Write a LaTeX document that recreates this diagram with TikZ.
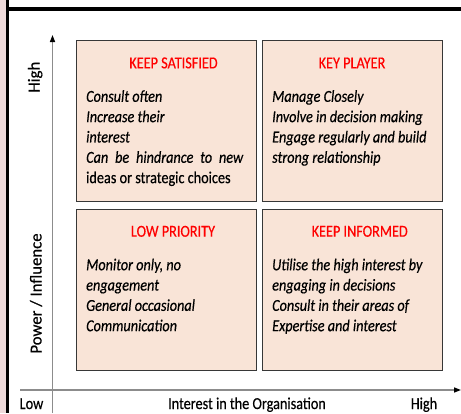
\documentclass[tikz,border=0pt]{standalone}
\usepackage{fontspec}
\setmainfont[FakeStretch=0.85,FakeBold=0.4]{Carlito}
\newfontfamily\vlblfont[FakeBold=0.4]{Carlito}
\usetikzlibrary{backgrounds}
\usetikzlibrary{calc}
\usetikzlibrary{arrows.meta}
\definecolor{qdfill}{RGB}{249,228,215}
\definecolor{qdline}{RGB}{55,55,55}
\definecolor{axgray}{RGB}{140,140,140}
\definecolor{edgepink}{RGB}{238,218,218}
\newcommand{\qdw}{180bp}
\newcommand{\qdh}{161bp}
\newcommand{\qdxa}{76}
\newcommand{\qdxb}{262}
\newcommand{\qdya}{40}
\newcommand{\qdyb}{209}
\newcommand{\qdfont}{\fontsize{16.8}{20.4}\selectfont}

\begin{document}
\begin{tikzpicture}[x=1bp,y=-1bp,
    qd/.style={draw=qdline,fill=qdfill,line width=1.3bp,anchor=north west,
      minimum width=\qdw,minimum height=\qdh,inner sep=0pt},
    qdtitle/.style={anchor=base,inner sep=0pt,text=red,font=\qdfont},
    qdbody/.style={anchor=north west,inner sep=0pt,align=left,font=\qdfont\itshape},
    axis/.style={draw=axgray,line width=1.4bp,
      -{Triangle[length=7bp,width=5bp,color=black]}},
    axlbl/.style={anchor=base,inner sep=0pt,font=\qdfont},
    vlbl/.style={anchor=base,inner sep=0pt,rotate=90,
      font=\vlblfont\fontsize{16.8}{20}\selectfont}]
    \useasboundingbox (0,0) rectangle (461,413);

    \fill[edgepink] (0,0) rectangle (6,413);
    \fill (6,0) rectangle (9,413);
    \fill (6,7) rectangle (461,11);

    \node[qd] (ks) at (\qdxa,\qdya) {};
    \node[qd] (kp) at (\qdxb,\qdya) {};
    \node[qd] (lp) at (\qdxa,\qdyb) {};
    \node[qd] (ki) at (\qdxb,\qdyb) {};

    \node[qdtitle] (kstitle) at ($(ks.north west)+(97.5,28.3)$) {KEEP SATISFIED};
    \node[qdtitle] (kptitle) at ($(kp.north west)+(90,28.3)$) {KEY PLAYER};
    \node[qdtitle] (lptitle) at ($(lp.north west)+(97,27.7)$) {LOW PRIORITY};
    \node[qdtitle] (kititle) at ($(ki.north west)+(97.7,27.7)$) {KEEP INFORMED};

    \node[qdbody] (kstext) at ($(ks.north west)+(10,47.4)$)
      {\strut Consult often\\Increase their\\interest\\
       \makebox[157bp][s]{Can be hindrance to new}\\
       {\upshape ideas or strategic choices}};
    \node[qdbody] (kptext) at ($(kp.north west)+(10,47.4)$)
      {\strut Manage Closely\\Involve in decision making\\
       Engage regularly and build\\strong relationship};
    \node[qdbody] (lptext) at ($(lp.north west)+(10,46.8)$)
      {\strut Monitor only, no\\engagement\\General occasional\\Communication};
    \node[qdbody] (kitext) at ($(ki.north west)+(10,46.8)$)
      {\strut Utilise the high interest by\\engaging in decisions\\
       Consult in their areas of\\Expertise and interest};

    \coordinate (vbot) at (52.5,413);
    \coordinate (vtop) at (52.5,35);
    \coordinate (hlft) at (20,390);
    \coordinate (hrgt) at (461,390);
    \draw[axis] (vbot) -- (vtop);
    \draw[axis] (hlft) -- (hrgt);

    \node[vlbl] (vhigh) at (39.5,77.2) {High};
    \node[vlbl] (vname) at (41.5,293.5) {Power / Influence};
    \node[axlbl] (hlow) at (31.5,409) {Low};
    \node[axlbl] (hname) at (247,409) {Interest in the Organisation};
    \node[axlbl] (hhigh) at (424,409) {High};
\end{tikzpicture}
\end{document}
